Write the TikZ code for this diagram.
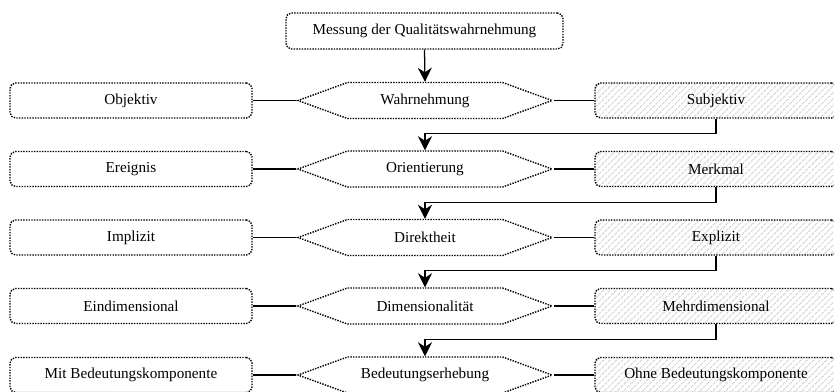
\documentclass[tikz,border=0pt]{standalone}
\usepackage{fontspec}
\setmainfont{Liberation Serif}
\usetikzlibrary{positioning, shapes.symbols, arrows.meta, patterns.meta}
\definecolor{hatchgray}{HTML}{D4D4D4}

\begin{document}
\begin{tikzpicture}[x=0.025cm, y=-0.025cm, font=\fontsize{10.8}{13}\selectfont,
    dotbox/.style={draw, line width=1pt, dash pattern=on 1pt off 0.9pt, rounded corners=4pt,
      minimum width=6.05cm, minimum height=0.875cm, inner sep=0pt},
    hatchbox/.style={dotbox, pattern={Lines[angle=45, distance=3.2pt, line width=0.8pt]},
      pattern color=hatchgray},
    hexbox/.style={draw, line width=1pt, dash pattern=on 1pt off 0.9pt, signal, signal to=west and east,
      signal pointer angle=40, minimum width=6.35cm, minimum height=0.9cm, inner sep=0pt},
    link/.style={line width=0.9pt},
    arr/.style={line width=0.9pt, -{Stealth[length=10pt, width=10pt]}}]
        \useasboundingbox (0,0) rectangle (834,391);
        \node[dotbox, minimum width=6.925cm, minimum height=0.9cm] (mess) at (424.5,31) {Messung der Qualitätswahrnehmung};
        % one row per dimension
        \foreach \i/\y/\l/\m/\r in {1/100.5/Objektiv/Wahrnehmung/Subjektiv,
            2/169/Ereignis/Orientierung/Merkmal,
            3/237.5/Implizit/Direktheit/Explizit,
            4/306/Eindimensional/Dimensionalität/Mehrdimensional,
            5/375/Mit Bedeutungskomponente/Bedeutungserhebung/Ohne Bedeutungskomponente}{
          \node[dotbox] (l\i) at (131,\y) {\l};
          \node[hexbox] (m\i) at (425,\y) {\m};
          \node[hatchbox] (r\i) at (716,\y) {\r};
          \draw[link] (l\i.east) -- (m\i.west);
          \draw[link] (m\i.east) -- (r\i.west);
        }
        \draw[arr] (mess.south) -- (m1.north);
        \foreach \i/\j in {1/2, 2/3, 3/4, 4/5}
          \draw[arr] (r\i.south) -- ++(0,15) -| (m\j.north);
      \end{tikzpicture}
\end{document}
